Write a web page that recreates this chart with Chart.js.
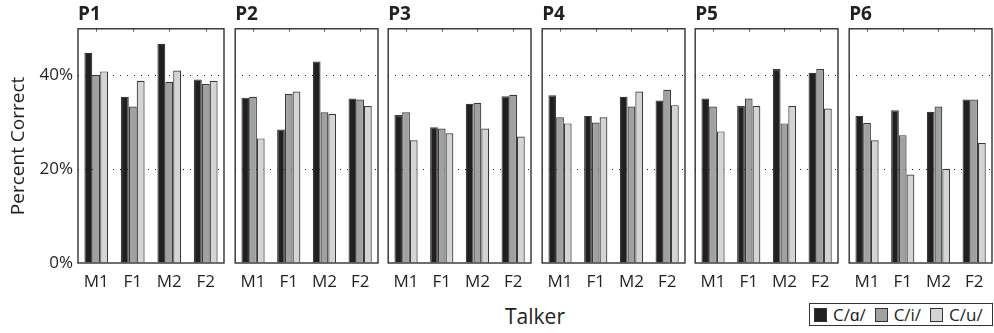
<!DOCTYPE html>
<html>
<head>
<meta charset="utf-8">
<script src="https://cdn.jsdelivr.net/npm/chart.js@4"></script>
<style>
  body { margin: 0; background: #fff; font-family: "Open Sans", sans-serif; color: #231f20; }
  #wrap { position: relative; width: 994px; height: 333px; overflow: hidden; }
  #wrap canvas { position: absolute; top: 0; }
  #talker { position: absolute; left: 435px; width: 200px; top: 306px; line-height: 1; text-align: center; font-size: 21px; }
  #legend { position: absolute; left: 809px; top: 303px; width: 184px; height: 23px; border: 1px solid #333;
            display: flex; align-items: center; padding-left: 4px; font-size: 17px; box-sizing: border-box; }
  #legend div { margin-right: 9px; white-space: nowrap; line-height: 1; }
  #legend span.sw { display: inline-block; width: 11px; height: 12px; border: 1px solid #333; margin-right: 6px; vertical-align: -1px; }
</style>
</head>
<body>
<div id="wrap">
  <div id="talker">Talker</div>
  <div id="legend"></div>
</div>
<script>
const panels = ['P1', 'P2', 'P3', 'P4', 'P5', 'P6'];
const talkers = ['M1', 'F1', 'M2', 'F2'];
const vowels = ['C/\u0251/', 'C/i/', 'C/u/'];
const yTicks = [0, 20, 40];

// percent correct per panel: rows = C/ɑ/, C/i/, C/u/ ; cols = M1, F1, M2, F2
const p1 = [[44.9, 35.5, 46.8, 39.2], [40.2, 33.4, 38.7, 38.2], [40.9, 38.9, 41.1, 38.9]];
const p2 = [[35.3, 28.5, 43.0, 35.1], [35.5, 36.1, 32.2, 34.9], [26.6, 36.6, 31.8, 33.5]];
const p3 = [[31.6, 29.0, 34.0, 35.6], [32.2, 28.7, 34.2, 35.9], [26.2, 27.7, 28.7, 27.0]];
const p4 = [[35.8, 31.4, 35.5, 34.7], [31.1, 30.0, 33.4, 37.0], [29.8, 31.1, 36.6, 33.7]];
const p5 = [[35.1, 33.5, 41.4, 40.6], [33.4, 35.1, 29.8, 41.4], [28.1, 33.5, 33.5, 33.0]];
const p6 = [[31.4, 32.6, 32.3, 34.9], [29.9, 27.3, 33.4, 34.9], [26.2, 18.9, 20.1, 25.6]];
const panelData = [p1, p2, p3, p4, p5, p6];

const fills = ['#231f20', '#a0a1a3', '#d3d4d5'];
const ink = '#231f20';

// legend
const legend = document.getElementById('legend');
vowels.forEach((v, k) => {
    const item = document.createElement('div');
    item.innerHTML = '<span class="sw" style="background:' + fills[k] + '"></span>' + v;
    legend.appendChild(item);
});

// box around each panel plus small ticks on the top edge
const boxPlugin = {
    id: 'box',
    afterDatasetsDraw(chart) {
        const { ctx, chartArea: a, scales } = chart;
        ctx.save();
        ctx.strokeStyle = '#6d6e70';
        ctx.lineWidth = 1;
        talkers.forEach((t, i) => {
            const x = Math.round(scales.x.getPixelForValue(i)) + 0.5;
            ctx.beginPath();
            ctx.moveTo(x, a.top);
            ctx.lineTo(x, a.top + 3);
            ctx.stroke();
        });
        ctx.strokeStyle = '#231f20';
        ctx.lineWidth = 1.3;
        ctx.strokeRect(a.left, a.top, a.right - a.left, a.bottom - a.top);
        ctx.restore();
    }
};

const wrap = document.getElementById('wrap');

panels.forEach((name, i) => {
    const first = i === 0;
    const canvas = document.createElement('canvas');
    const boxLeft = Math.round(78 + 153.5 * i);
    canvas.width = first ? 225 : 148;
    canvas.height = 333;
    canvas.style.left = (first ? 0 : boxLeft - 1) + 'px';
    wrap.appendChild(canvas);

    new Chart(canvas, {
        type: 'bar',
        data: {
            labels: talkers,
            datasets: vowels.map((v, k) => ({
                label: v,
                data: panelData[i][k],
                backgroundColor: fills[k],
                borderColor: '#3a3a3a',
                borderWidth: 1.2,
                borderSkipped: 'bottom',
                barPercentage: 1,
                categoryPercentage: 0.65
            }))
        },
        options: {
            responsive: false,
            animation: false,
            layout: { padding: { left: first ? 0 : 1, right: 1, top: 0, bottom: 0 } },
            plugins: {
                legend: { display: false },
                tooltip: { enabled: false },
                title: {
                    display: true,
                    text: name,
                    align: 'start',
                    fullSize: false,
                    color: ink,
                    font: { family: 'Open Sans', size: 19, weight: 'bold' },
                    padding: { top: 3, bottom: 3 }
                }
            },
            scales: {
                x: {
                    grid: { display: false, drawTicks: false },
                    border: { display: false },
                    ticks: { color: ink, padding: 9, font: { family: 'Open Sans', size: 17 } },
                    afterFit(s) { s.height = 70; }
                },
                y: {
                    min: 0,
                    max: 50,
                    afterBuildTicks(s) { s.ticks = yTicks.map(v => ({ value: v })); },
                    grid: {
                        drawTicks: false,
                        lineWidth: 1,
                        color: c => (c.tick && c.tick.value === 0) ? 'rgba(0,0,0,0)' : '#231f20'
                    },
                    border: { display: false, dash: [1, 6] },
                    ticks: {
                        display: first,
                        color: ink,
                        padding: 5,
                        font: { family: 'Open Sans', size: 17 },
                        callback: v => v + '%'
                    },
                    title: {
                        display: first,
                        text: 'Percent Correct',
                        color: ink,
                        font: { family: 'Open Sans', size: 19 },
                        padding: { top: 7, bottom: 0 }
                    },
                    afterFit(s) { s.width = first ? 78 : 0; }
                }
            }
        },
        plugins: [boxPlugin]
    });
});
</script>
</body>
</html>
